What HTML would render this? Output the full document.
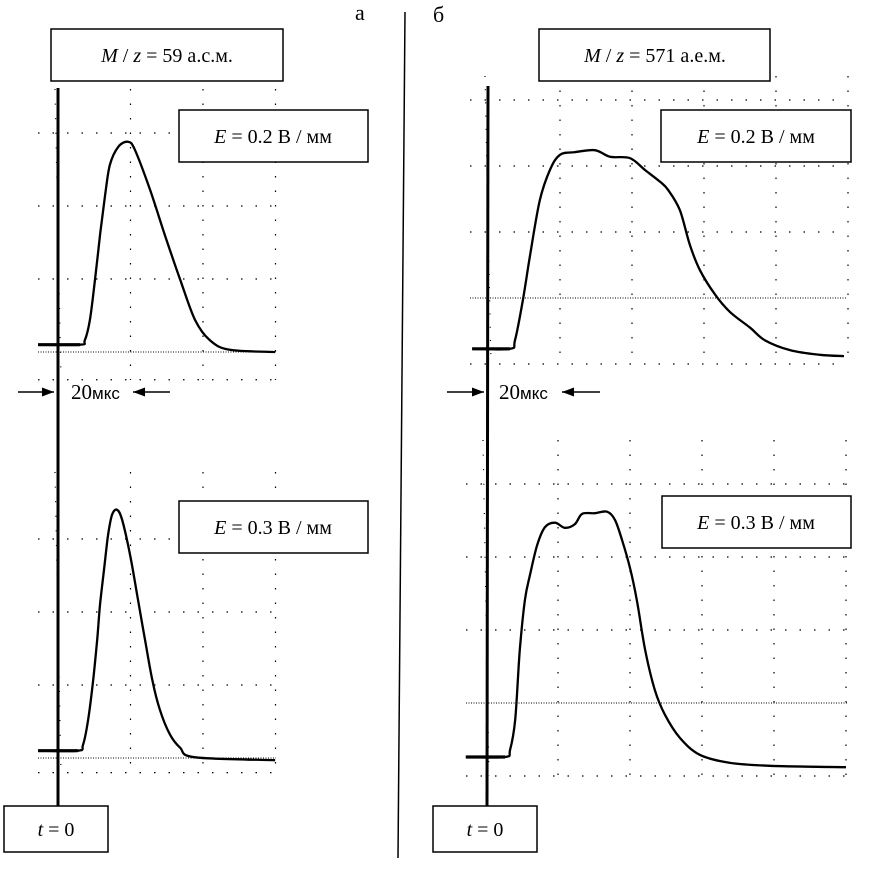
<!DOCTYPE html>
<html><head><meta charset="utf-8"><style>
body{margin:0;background:#fff}
svg{display:block;font-family:"Liberation Serif",serif}
</style></head><body>
<svg id="c" width="869" height="876" viewBox="0 0 869 876"></svg>
<script>
// data: time (µs) and amplitude (grid divisions above reference line)
const tA1=[-5.5,6.1,7.4,8.8,10.2,11.6,13.0,14.3,16.6,19.3,21.2,25.4,29.5,33.7,37.8,41.9,47.4,59.9];
const vA1=[0.10,0.10,0.16,0.44,0.99,1.60,2.15,2.56,2.81,2.88,2.77,2.22,1.60,0.99,0.44,0.16,0.03,0];
const tA2=[-5.5,5.5,6.9,8.3,9.7,10.8,11.6,12.7,13.8,14.9,16.3,17.7,19.9,22.1,24.0,26.0,28.1,30.9,33.7,37.8,59.9];
const vA2=[0.10,0.10,0.18,0.52,1.07,1.62,2.10,2.58,3.05,3.33,3.40,3.26,2.78,2.16,1.62,1.07,0.66,0.32,0.14,0.01,-0.03];
const tB1=[-4.4,6.1,7.5,9.7,11.7,14.4,17.2,20,24.2,29.7,33.9,39.4,43.6,47.8,50,53.3,56.1,58.9,63.1,67.2,72.8,76.9,83.9,92.2,98.9];
const vB1=[-0.77,-0.77,-0.64,-0.03,0.65,1.48,1.94,2.17,2.21,2.24,2.14,2.12,1.94,1.76,1.64,1.33,0.80,0.42,0.05,-0.21,-0.45,-0.64,-0.79,-0.86,-0.88];
const tB2=[-5.6,5.3,6.7,8.1,9.4,10.8,12.2,14.2,16.4,19.2,21.9,24.7,26.7,30.3,33.6,35.8,37.8,40,41.9,44.2,46.9,49.7,53.9,59.4,67.8,78.9,100];
const vB2=[-0.74,-0.74,-0.64,-0.23,0.73,1.41,1.75,2.16,2.41,2.47,2.40,2.45,2.59,2.60,2.62,2.51,2.23,1.85,1.41,0.73,0.18,-0.16,-0.48,-0.71,-0.82,-0.86,-0.88];
const colTicks=[0,20,40,60,80,100];
const rowTicks=[1,2,3];

const svg=document.getElementById('c');
const NS='http://www.w3.org/2000/svg';
function mk(tag,at,parent){const e=document.createElementNS(NS,tag);for(const k in at)e.setAttribute(k,at[k]);(parent||svg).appendChild(e);return e;}
function smooth(P){
 let d='M'+P[0][0].toFixed(1)+','+P[0][1].toFixed(1);
 for(let i=0;i<P.length-1;i++){
  const p0=P[i-1]||P[i],p1=P[i],p2=P[i+1],p3=P[i+2]||P[i+1];
  const c1=[p1[0]+(p2[0]-p0[0])/6,p1[1]+(p2[1]-p0[1])/6];
  const c2=[p2[0]-(p3[0]-p1[0])/6,p2[1]-(p3[1]-p1[1])/6];
  d+=' C'+c1[0].toFixed(1)+','+c1[1].toFixed(1)+' '+c2[0].toFixed(1)+','+c2[1].toFixed(1)+' '+p2[0].toFixed(1)+','+p2[1].toFixed(1);
 }
 return d;
}

const panels=[
 {id:'a-top',ax:58,cw:72.5,y0:352,rh:73,t:tA1,v:vA1,cols:4,gTop:89,gBot:380,low:-0.38,xl:38,xr:276},
 {id:'a-bottom',ax:58,cw:72.5,y0:758,rh:73,t:tA2,v:vA2,cols:4,gTop:472,gBot:773,low:-0.2,xl:38,xr:276},
 {id:'b-top',ax:488,cw:72,y0:298,rh:66,t:tB1,v:vB1,cols:6,gTop:76,gBot:364,low:-1,xl:470,xr:847},
 {id:'b-bottom',ax:486,cw:72,y0:703,rh:73,t:tB2,v:vB2,cols:6,gTop:440,gBot:776,low:-1,xl:466,xr:847}
];
panels.forEach(p=>{
 const g=mk('g',{});
 
 
 const X=t=>p.ax+t/20*p.cw, Y=v=>p.y0-v*p.rh;
 colTicks.slice(0,p.cols).forEach((c,i)=>{
   if(i===0)return;
   const l=mk('line',{x1:X(c),x2:X(c),y1:p.gTop,y2:p.gBot,stroke:'#000','stroke-width':1.2,'stroke-dasharray':'1.5 13'},g);
   
   
 });
 rowTicks.concat([p.low]).forEach(r=>{
   const l=mk('line',{x1:p.xl,x2:p.xr,y1:Y(r),y2:Y(r),stroke:'#000','stroke-width':1.2,'stroke-dasharray':'1.5 13'},g);
   
   
 });
 const d=mk('line',{x1:p.xl,x2:p.xr,y1:Y(0),y2:Y(0),stroke:'#000','stroke-width':1,'stroke-dasharray':'1 1.5'},g);
 
 
 const at=mk('line',{x1:p.ax-3,x2:p.ax+3,y1:p.gTop,y2:p.gBot,stroke:'#000','stroke-width':1.2,'stroke-dasharray':'1 '+(p.rh/5-1)},g);
 
 
 const P=p.t.map((t,i)=>[X(t),Y(p.v[i])]);
 const bl=mk('line',{x1:P[0][0],y1:P[0][1],x2:P[1][0],y2:P[1][1],stroke:'#000','stroke-width':3.2},g);
 
 
 const pl=mk('path',{d:smooth(P),fill:'none',stroke:'#000','stroke-width':2.3,'stroke-linejoin':'round'},g);
 
 
});
</script>
<svg width="869" height="876" style="position:absolute;left:0;top:0">
 <defs><marker id="ah" markerWidth="8" markerHeight="6" refX="8" refY="3" orient="auto"><path d="M0,0 L8,3 L0,6z" fill="#000"/></marker></defs>
 <line x1="58" y1="88" x2="58" y2="830" stroke="#000" stroke-width="3"/>
 <line x1="488" y1="86" x2="487" y2="806" stroke="#000" stroke-width="3"/>
 <line x1="405" y1="12" x2="398" y2="858" stroke="#000" stroke-width="1.5"/>
 <text x="355" y="20" font-size="22">а</text>
 <text x="433" y="22" font-size="22">б</text>
 <g><rect x="51" y="29" width="232" height="52" fill="#fff" stroke="#000" stroke-width="1.5"/>
  <text x="167" y="62" font-size="20" text-anchor="middle"><tspan font-style="italic">M</tspan> / <tspan font-style="italic">z</tspan> = 59 а.с.м.</text></g>
 <g><rect x="539" y="29" width="231" height="52" fill="#fff" stroke="#000" stroke-width="1.5"/>
  <text x="655" y="62" font-size="20" text-anchor="middle"><tspan font-style="italic">M</tspan> / <tspan font-style="italic">z</tspan> = 571 а.е.м.</text></g>
 <g><rect x="179" y="110" width="189" height="52" fill="#fff" stroke="#000" stroke-width="1.5"/>
  <text x="273" y="143" font-size="20" text-anchor="middle"><tspan font-style="italic">E</tspan> = 0.2 В / мм</text></g>
 <g><rect x="179" y="501" width="189" height="52" fill="#fff" stroke="#000" stroke-width="1.5"/>
  <text x="273" y="534" font-size="20" text-anchor="middle"><tspan font-style="italic">E</tspan> = 0.3 В / мм</text></g>
 <g><rect x="661" y="110" width="190" height="52" fill="#fff" stroke="#000" stroke-width="1.5"/>
  <text x="756" y="143" font-size="20" text-anchor="middle"><tspan font-style="italic">E</tspan> = 0.2 В / мм</text></g>
 <g><rect x="662" y="496" width="189" height="52" fill="#fff" stroke="#000" stroke-width="1.5"/>
  <text x="756" y="529" font-size="20" text-anchor="middle"><tspan font-style="italic">E</tspan> = 0.3 В / мм</text></g>
 <g><rect x="4" y="806" width="104" height="46" fill="#fff" stroke="#000" stroke-width="1.5"/>
  <text x="56" y="836" font-size="20" text-anchor="middle"><tspan font-style="italic">t</tspan> = 0</text></g>
 <g><rect x="433" y="806" width="104" height="46" fill="#fff" stroke="#000" stroke-width="1.5"/>
  <text x="485" y="836" font-size="20" text-anchor="middle"><tspan font-style="italic">t</tspan> = 0</text></g>
 <g>
  <line x1="18" y1="392" x2="54" y2="392" stroke="#000" stroke-width="1.5" marker-end="url(#ah)"/>
  <line x1="170" y1="392" x2="133" y2="392" stroke="#000" stroke-width="1.5" marker-end="url(#ah)"/>
  <text x="71" y="399" font-size="21">20<tspan font-family="Liberation Sans" font-size="17">мкс</tspan></text></g>
 <g>
  <line x1="447" y1="392" x2="484" y2="392" stroke="#000" stroke-width="1.5" marker-end="url(#ah)"/>
  <line x1="600" y1="392" x2="562" y2="392" stroke="#000" stroke-width="1.5" marker-end="url(#ah)"/>
  <text x="499" y="399" font-size="21">20<tspan font-family="Liberation Sans" font-size="17">мкс</tspan></text></g>
</svg>
</body></html>
